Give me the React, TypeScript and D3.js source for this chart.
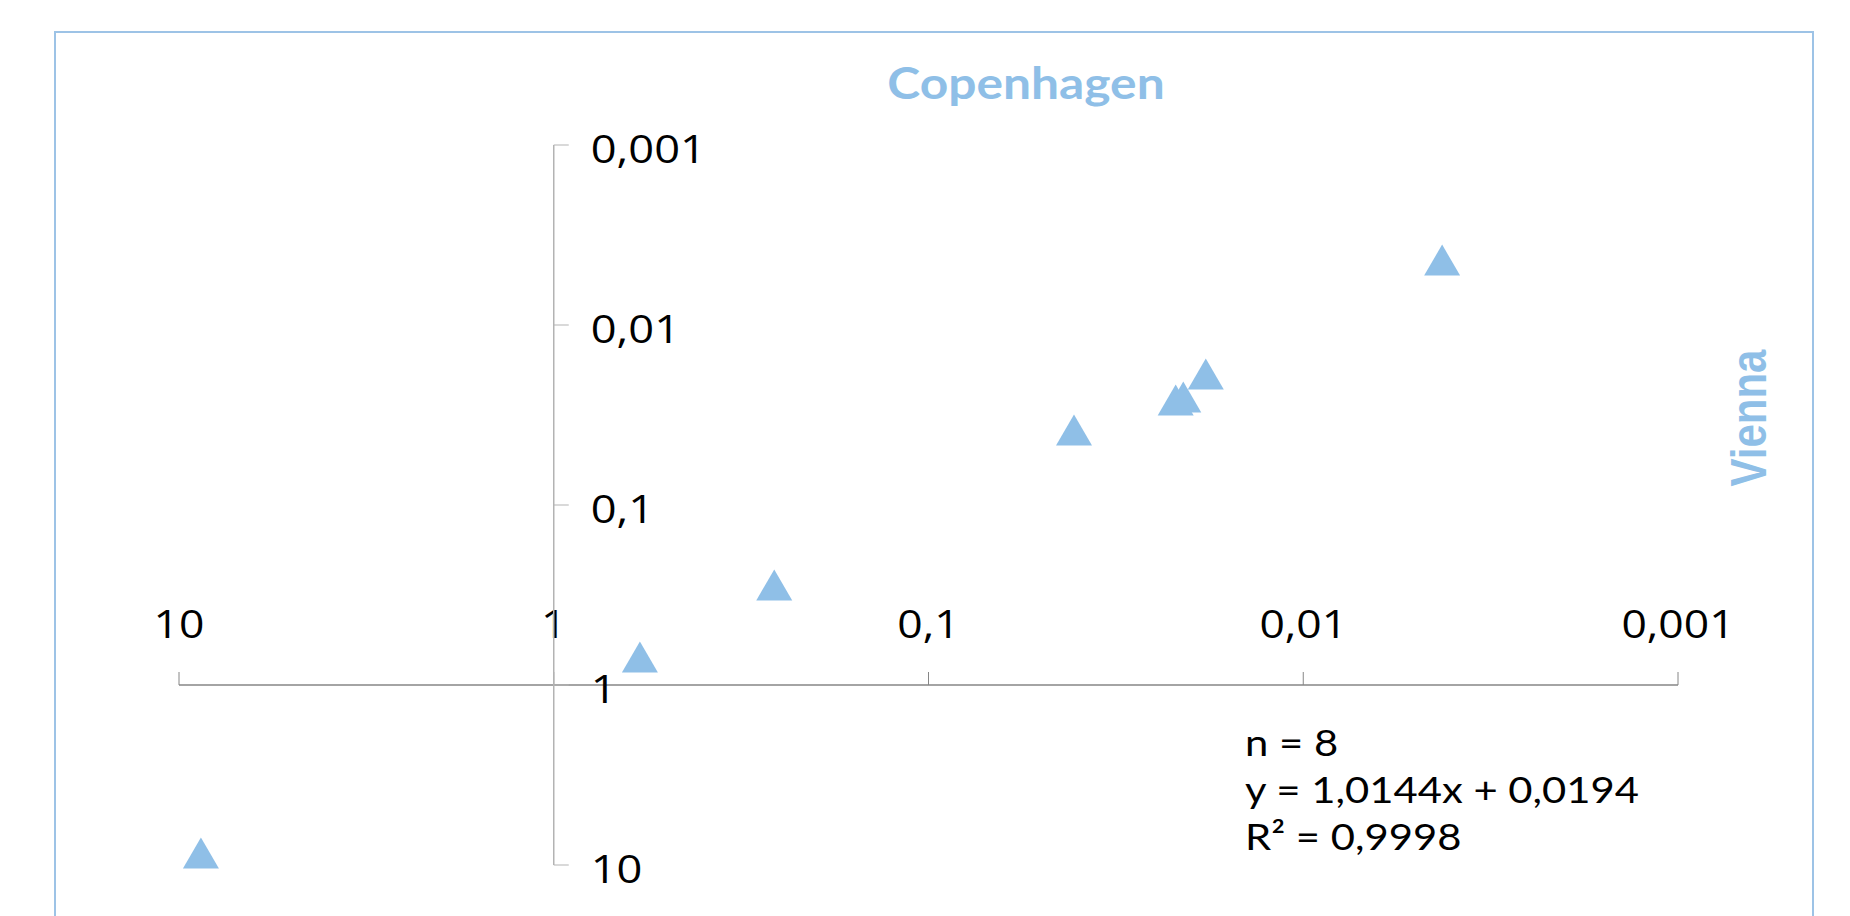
import * as d3 from "d3";

// x = Copenhagen, y = Vienna (both log, reversed)
const copenhagen = [8.74, 0.589, 0.258, 0.0409, 0.0219, 0.0209, 0.0182, 0.00426];
const vienna = [8.58, 0.698, 0.278, 0.0383, 0.0261, 0.0251, 0.0187, 0.00436];

const tickValues = [10, 1, 0.1, 0.01, 0.001];
const tickLabels = ["10", "1", "0,1", "0,01", "0,001"];

const statLines = ["n = 8", "y = 1,0144x + 0,0194", "R² = 0,9998"];

const BLUE = "#8FBFE7";

const App = () => {
  const width = 1850;
  const height = 916;

  const xScale = d3.scaleLog().domain([10, 0.001]).range([179, 1678]);
  const yScale = d3.scaleLog().domain([0.001, 10]).range([145, 865]);

  const axisY = yScale(1); // x-axis crosses at y = 1
  const axisX = xScale(1); // y-axis crosses at x = 1

  const triW = 36;
  const triH = 31;
  const triangle = `M0,${-triH / 2}L${triW / 2},${triH / 2}L${-triW / 2},${triH / 2}Z`;

  const tickFont = "'Open Sans', sans-serif";
  const statFont = "Lato, 'Open Sans', sans-serif";

  return (
    <svg
      width={width}
      height={height}
      style={{ position: "absolute", left: 0, top: 0, background: "#fff" }}
    >
      <rect x={55} y={32} width={1758} height={920} fill="#fff" stroke="#9DC3E6" strokeWidth={2} />

      {/* title */}
      <g transform={`translate(1026,99) scale(1.13,1)`}>
        <text textAnchor="middle" fontFamily={statFont} fontWeight={700} fontSize={44} fill={BLUE}>
          Copenhagen
        </text>
      </g>

      {/* y title */}
      <text
        transform={`translate(1766,418) rotate(-90) scale(1,1.2)`}
        textAnchor="middle"
        fontFamily="'Liberation Sans', Arial, sans-serif"
        fontWeight={700}
        fontSize={42}
        fill={BLUE}
      >
        Vienna
      </text>

      {/* x axis */}
      <line x1={xScale(10)} x2={xScale(0.001)} y1={axisY} y2={axisY} stroke="#868686" strokeWidth={1.5} />
      {tickValues.map((t, i) => (
        <g key={"xt" + i}>
          <line x1={xScale(t)} x2={xScale(t)} y1={axisY} y2={axisY - 13} stroke="#868686" strokeWidth={1} />
          <g transform={`translate(${xScale(t)},${axisY - 47}) scale(1.14,1)`}>
            <text textAnchor="middle" fontFamily={tickFont} fontSize={39} fill="#000">
              {tickLabels[i]}
            </text>
          </g>
        </g>
      ))}

      {/* y axis */}
      <line x1={axisX} x2={axisX} y1={yScale(0.001)} y2={yScale(10)} stroke="#B3B3B3" strokeWidth={1.5} />
      {tickValues.map((t, i) => (
        <g key={"yt" + i}>
          <line x1={axisX} x2={axisX + 15} y1={yScale(t)} y2={yScale(t)} stroke="#B3B3B3" strokeWidth={1} />
          <g transform={`translate(${axisX + 37},${yScale(t) + 4}) scale(1.16,1)`}>
            <text dy="0.35em" fontFamily={tickFont} fontSize={39} fill="#000">
              {tickLabels[i]}
            </text>
          </g>
        </g>
      ))}

      {/* points */}
      {copenhagen.map((cx, i) => (
        <path
          key={"p" + i}
          d={triangle}
          transform={`translate(${xScale(cx)},${yScale(vienna[i])})`}
          fill={BLUE}
        />
      ))}

      {/* regression stats */}
      {statLines.map((s, i) => (
        <g key={"s" + i} transform={`translate(1245,${756 + i * 47}) scale(1.13,1)`}>
          <text fontFamily={statFont} fontSize={37} fill="#000">
            {s}
          </text>
        </g>
      ))}
    </svg>
  );
};

export default App;
